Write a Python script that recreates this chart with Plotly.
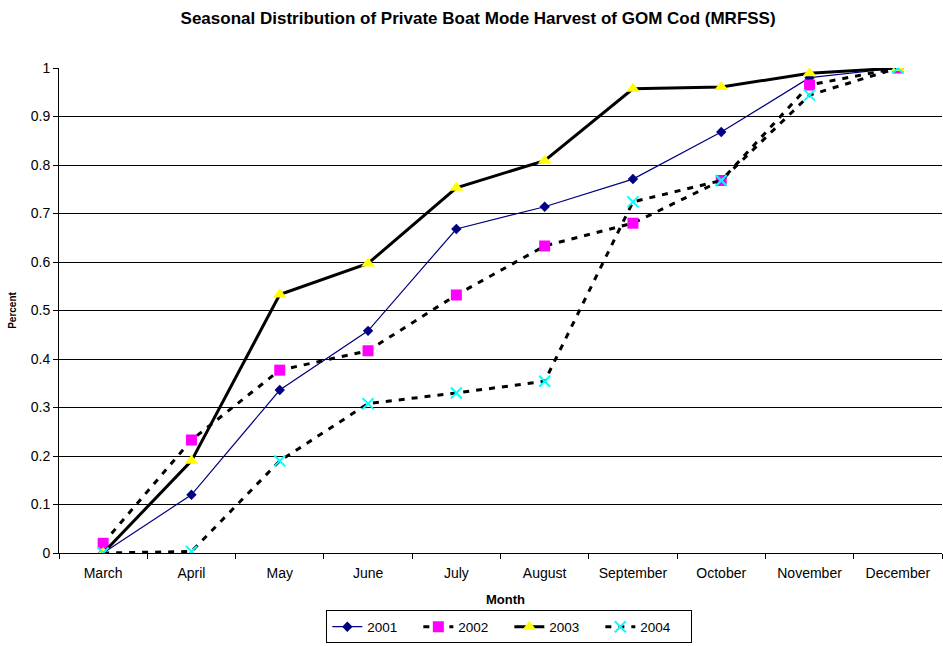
import plotly.graph_objects as go

months = ["March", "April", "May", "June", "July", "August",
          "September", "October", "November", "December"]

y2001 = [0.0, 0.120, 0.336, 0.458, 0.668, 0.714, 0.771, 0.868, 0.980, 1.0]
y2002 = [0.020, 0.233, 0.377, 0.417, 0.532, 0.633, 0.680, 0.768, 0.965, 1.0]
y2003 = [0.0, 0.190, 0.533, 0.597, 0.753, 0.809, 0.957, 0.961, 0.989, 1.0]
y2004 = [0.0, 0.003, 0.190, 0.308, 0.330, 0.354, 0.724, 0.768, 0.944, 1.0]

font_family = "Liberation Sans, Arial, sans-serif"

fig = go.Figure()

fig.add_trace(go.Scatter(
    x=months, y=y2001, name="2001", mode="lines+markers",
    line=dict(color="#000080", width=1.2),
    marker=dict(symbol="diamond", size=8, color="#000080"),
))
fig.add_trace(go.Scatter(
    x=months, y=y2002, name="2002", mode="lines+markers",
    line=dict(color="black", width=3, dash="6px,7px"),
    marker=dict(symbol="square", size=11, color="#FF00FF"),
))
fig.add_trace(go.Scatter(
    x=months, y=y2003, name="2003", mode="lines+markers",
    line=dict(color="black", width=3),
    marker=dict(symbol="triangle-up", size=12, color="#FFFF00"),
))
fig.add_trace(go.Scatter(
    x=months, y=y2004, name="2004", mode="lines+markers",
    line=dict(color="black", width=3, dash="6px,7px"),
    marker=dict(symbol="x-thin", size=11, line=dict(color="#00FFFF", width=2)),
))

fig.update_layout(
    width=943, height=646,
    paper_bgcolor="white", plot_bgcolor="white",
    margin=dict(l=59, r=1, t=68, b=93),
    font=dict(family=font_family, size=14, color="black"),
    title=dict(
        text="<b>Seasonal Distribution of Private Boat Mode Harvest of GOM Cod (MRFSS)</b>",
        x=0.507, xanchor="center", y=0.972, yanchor="middle",
        font=dict(size=17, family=font_family),
    ),
    xaxis=dict(
        type="category", range=[-0.5, 9.5],
        tickson="boundaries", ticks="outside", ticklen=5, tickcolor="black",
        ticklabelstandoff=7,
        showline=True, linecolor="black", linewidth=1,
        showgrid=False, zeroline=False, automargin=False,
        tickfont=dict(size=14),
    ),
    yaxis=dict(
        range=[0, 1], dtick=0.1, tick0=0,
        ticks="outside", ticklen=5, tickcolor="black",
        showline=True, linecolor="black", linewidth=1,
        showgrid=True, gridcolor="black", gridwidth=1,
        zeroline=False, automargin=False,
        title=dict(text="<b>Percent</b>", font=dict(size=10), standoff=12),
        tickfont=dict(size=14),
    ),
    legend=dict(
        orientation="h", x=0.51, xanchor="center",
        yref="container", y=0.004, yanchor="bottom",
        bordercolor="black", borderwidth=1, bgcolor="white",
        font=dict(size=13.5), entrywidth=46, tracegroupgap=0,
    ),
    annotations=[dict(
        text="<b>Month</b>", xref="paper", yref="paper",
        x=0.506, y=-0.095, xanchor="center", yanchor="middle",
        showarrow=False, font=dict(size=13),
    )],
    showlegend=True,
)

fig.write_html("out.html")
